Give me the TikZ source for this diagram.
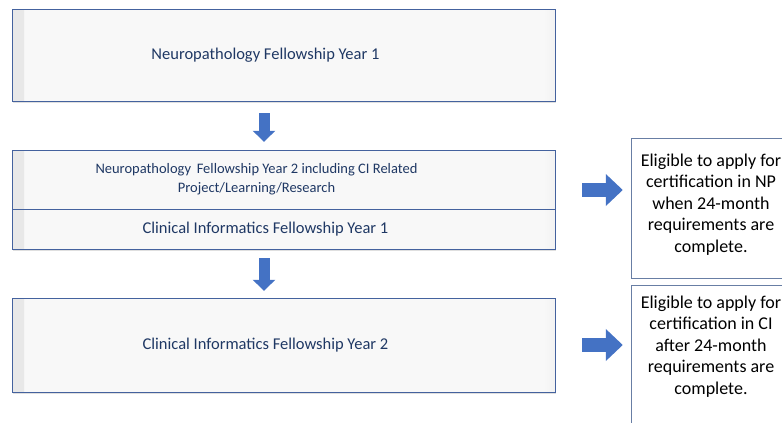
\documentclass[tikz,border=0pt]{standalone}
\usepackage{fontspec}
\setmainfont{Carlito}
\usetikzlibrary{arrows.meta,shadows}

\definecolor{phasetext}{RGB}{31,56,100}
\definecolor{phaseline}{RGB}{68,98,158}
\definecolor{notelines}{RGB}{104,126,164}
\definecolor{arrowblue}{RGB}{68,114,196}
\definecolor{phasefill}{RGB}{248,248,248}

\newcommand{\lft}{\hspace*{36pt}}

\tikzset{
  phase/.style={draw=phaseline, fill=phasefill, thin, minimum width=543pt,
    text=phasetext, align=center, inner sep=0pt,
    drop shadow={shadow xshift=0.8pt, shadow yshift=-1.5pt, opacity=0.25},
    path picture={
      \shade[left color=black!9, right color=phasefill]
        (path picture bounding box.south west) rectangle ([xshift=12pt]path picture bounding box.north west);
      \shade[left color=phasefill, right color=black!5]
        ([xshift=-12pt]path picture bounding box.south east) rectangle (path picture bounding box.north east);
    }},
  note/.style={draw=notelines, fill=white, thin, minimum width=160pt,
    align=center, inner sep=0pt, font=\fontsize{18}{21.5}\selectfont},
  downarrow/.style={draw=arrowblue, line width=11pt, -{Triangle[length=11pt,width=22pt]}},
  sidearrow/.style={draw=arrowblue, line width=14pt, -{Triangle[length=17pt,width=31pt]}}
}

\begin{document}
\begin{tikzpicture}[x=1pt,y=-1pt,font=\fontsize{16.5}{20}\selectfont]
    \useasboundingbox (0,0) rectangle (782,423);
    \clip (0,0) rectangle (782,423);

    % fellowship years
    \node[phase, minimum height=92pt] (np1) at (283.5,55) {Neuropathology Fellowship Year 1\lft};
    \node[phase, minimum height=59pt, font=\fontsize{14.5}{19}\selectfont] (np2) at (283.5,179.5)
        {Neuropathology\, Fellowship Year 2 including CI Related\lft\hspace*{18pt}\\Project/Learning/Research\lft\hspace*{18pt}};
    \node[phase, minimum height=40pt] (ci1) at (283.5,229) {Clinical Informatics Fellowship Year 1\lft};
    \node[phase, minimum height=94pt] (ci2) at (283.5,345) {Clinical Informatics Fellowship Year 2\lft};

    % certification notes
    \node[note, minimum height=140pt] (eligNP) at (711,208)
        {Eligible to apply for\\certification in NP\\when 24-month\\requirements are\\complete.\\[-11.5pt]};
    \node[note, minimum height=146pt] (eligCI) at (711,358)
        {Eligible to apply for\\certification in CI\\after 24-month\\requirements are\\complete.\\[4.5pt]};

    \coordinate (lvl1) at (0,190);

    \draw[downarrow, shorten <=12pt, shorten >=8pt] (np1.south -| 264,0) -- (np2.north -| 264,0);
    \draw[downarrow, shorten <=9pt, shorten >=7pt] (ci1.south -| 264,0) -- (ci2.north -| 264,0);

    \draw[sidearrow, shorten <=27pt, shorten >=8pt] (np2.east |- lvl1) -- (eligNP.west |- lvl1);
    \draw[sidearrow, shorten <=27pt, shorten >=8pt] (ci2.east) -- (eligCI.west |- ci2.east);
\end{tikzpicture}
\end{document}
